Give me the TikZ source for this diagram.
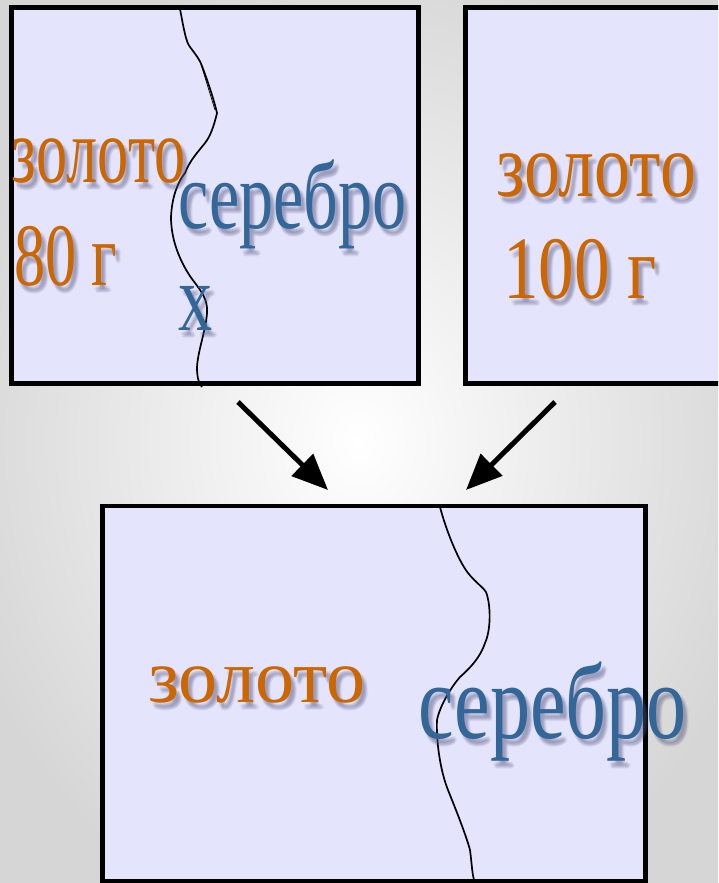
\documentclass[tikz,border=0pt]{standalone}
\usepackage{graphicx}
\usepackage{fontspec}
\setmainfont{Liberation Serif}
\usetikzlibrary{arrows.meta,calc}
\definecolor{boxfill}{RGB}{228,228,252}
\definecolor{goldc}{RGB}{204,102,0}
\definecolor{silverc}{RGB}{51,102,153}
\definecolor{shadowc}{RGB}{90,90,130}
\newcommand{\sqz}[3]{\fontsize{#1}{#1}\selectfont\scalebox{#2}[1]{#3}}
\tikzset{
  metal/.style={draw=black, line width=4.5pt, fill=boxfill},
  seam/.style={black, line width=1.7pt},
  arr/.style={line width=5pt, -{Triangle[length=36pt,width=30pt]}},
  lbl/.style={anchor=base west, inner sep=0pt, outer sep=0pt},
  shd/.style={lbl, text=shadowc, text opacity=0.07},
  gold/.style={lbl, text=goldc},
  silver/.style={lbl, text=silverc},
}
% soft shadow: several faint offset copies
\newcommand{\softshadow}[3]{%
  \foreach \dx/\dy [count=\k] in {3/4,5/4,3/7,5/7,4/5,4/6,6/6,2/5,4/8}{
    \node[shd] (#1-\k) at ($(#2)+(\dx,\dy)$) {#3};
  }}
\begin{document}
\begin{tikzpicture}[x=1pt,y=-1pt]
\clip (0,0) rectangle (718,883);
\shade[inner color=white, outer color=black!16] (-60,-60) rectangle (778,943);
% boxes
\draw[metal] (11.5,7.5) rectangle (418.5,383.5);
\draw[metal] (465.5,7.5) rectangle (730,383.5);
\draw[metal] (102.5,506) rectangle (645.5,881.5);
% seams
\draw[seam] (180,9) .. controls (184,30) and (186,42) .. (190,47)
  .. controls (196,55) and (200,60) .. (202,66)
  .. controls (208,82) and (214,100) .. (217,113)
  .. controls (214,126) and (210,137) .. (205,143)
  .. controls (198,152) and (190,160) .. (185,173)
  .. controls (178,182) and (172,196) .. (171,217)
  .. controls (171,240) and (180,262) .. (192,279)
  .. controls (202,292) and (208,300) .. (207,313)
  .. controls (206,330) and (198,350) .. (197,367)
  .. controls (197,378) and (199,384) .. (202,387);
\draw[black, line width=0.7pt] (200,61) -- (215,110);
\draw[seam] (440,507) .. controls (446,530) and (458,560) .. (468,573)
  .. controls (476,583) and (484,588) .. (486,592)
  .. controls (491,605) and (491,630) .. (485,643)
  .. controls (480,658) and (470,668) .. (460,677)
  .. controls (452,686) and (440,705) .. (437,720)
  .. controls (436,740) and (440,770) .. (448,790)
  .. controls (456,810) and (466,835) .. (470,850)
  .. controls (472,865) and (472,875) .. (475,883);
% arrows
\coordinate (l1) at (238,402);
\coordinate (l2) at (328,490);
\coordinate (r1) at (555,402);
\coordinate (r2) at (466,490);
\draw[arr] (l1) -- (l2);
\draw[arr] (r1) -- (r2);
% label anchors
\coordinate (p1) at (12,182);
\coordinate (p2) at (14,285);
\coordinate (p3) at (178,228);
\coordinate (p4) at (178,330);
\coordinate (p5) at (496,196);
\coordinate (p6) at (503,298);
\coordinate (p7) at (148,702);
\coordinate (p8) at (418,738);
% shadows
\softshadow{s1}{p1}{\sqz{93}{0.67}{золото}}
\softshadow{s2}{p2}{\sqz{89}{0.70}{80 г}}
\softshadow{s3}{p3}{\sqz{96}{0.71}{серебро}}
\softshadow{s4}{p4}{\sqz{96}{0.71}{x}}
\softshadow{s5}{p5}{\sqz{91}{0.79}{золото}}
\softshadow{s6}{p6}{\sqz{89}{0.80}{100 г}}
\softshadow{s7}{p7}{\sqz{76}{1.03}{золото}}
\softshadow{s8}{p8}{\sqz{107}{0.75}{серебро}}
% labels
\node[gold] (g1) at (p1) {\sqz{93}{0.67}{золото}};
\node[gold] (g2) at (p2) {\sqz{89}{0.70}{80 г}};
\node[silver] (c1) at (p3) {\sqz{96}{0.71}{серебро}};
\node[silver] (c2) at (p4) {\sqz{96}{0.71}{x}};
\node[gold] (g3) at (p5) {\sqz{91}{0.79}{золото}};
\node[gold] (g4) at (p6) {\sqz{89}{0.80}{100 г}};
\node[gold] (g5) at (p7) {\sqz{76}{1.03}{золото}};
\node[silver] (c3) at (p8) {\sqz{107}{0.75}{серебро}};
\end{tikzpicture}
\end{document}
